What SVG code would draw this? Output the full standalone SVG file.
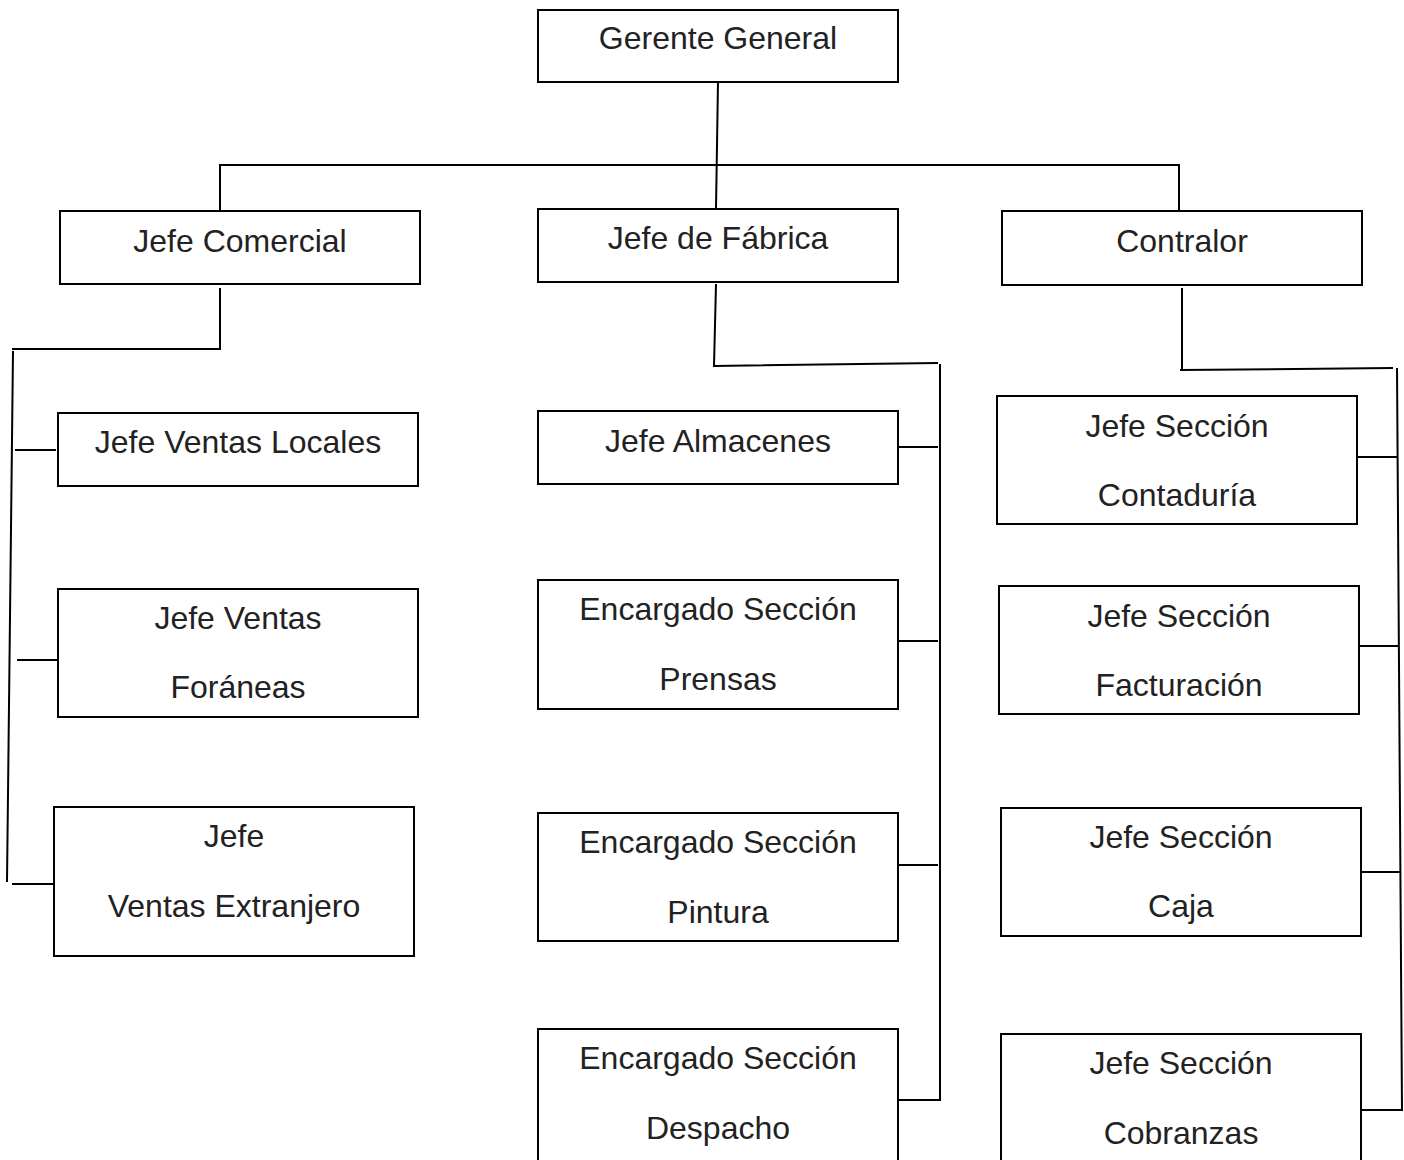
<svg xmlns="http://www.w3.org/2000/svg" width="1404" height="1160" viewBox="0 0 1404 1160">
<style>
.box{fill:#fff;stroke:#000;stroke-width:2}
.t{font-family:"Liberation Sans",Arial,sans-serif;font-size:32px;fill:#222;text-anchor:middle}
.c{fill:none;stroke:#000;stroke-width:2}
</style>
<rect width="1404" height="1160" fill="#fff"/>
<g id="connectors">
<path class="c" d="M718,82 L716,208"/>
<path class="c" d="M220,210 L220,165 L1179,165 L1179,210"/>
<path class="c" d="M220,288 L220,349 L12,349"/>
<path class="c" d="M13,351 L7,882"/>
<path class="c" d="M15,450 L56,450"/>
<path class="c" d="M17,660 L57,660"/>
<path class="c" d="M12,884 L53,884"/>
<path class="c" d="M716,284 L714,366 L938,363"/>
<path class="c" d="M940,364 L940,1100 L898,1100"/>
<path class="c" d="M898,447 L938,447"/>
<path class="c" d="M898,641 L938,641"/>
<path class="c" d="M898,865 L938,865"/>
<path class="c" d="M1182,288 L1182,370"/>
<path class="c" d="M1180,370 L1393,368"/>
<path class="c" d="M1397,368 L1402,1110 L1362,1110"/>
<path class="c" d="M1357,457 L1397,457"/>
<path class="c" d="M1357,646 L1398,646"/>
<path class="c" d="M1362,872 L1400,872"/>
</g>
<g id="gerente"><rect class="box" x="538" y="10" width="360" height="72"/><text class="t" x="718" y="49">Gerente General</text></g>
<g id="comercial"><rect class="box" x="60" y="211" width="360" height="73"/><text class="t" x="240" y="252">Jefe Comercial</text></g>
<g id="fabrica"><rect class="box" x="538" y="209" width="360" height="73"/><text class="t" x="718" y="249">Jefe de Fábrica</text></g>
<g id="contralor"><rect class="box" x="1002" y="211" width="360" height="74"/><text class="t" x="1182" y="252">Contralor</text></g>
<g id="locales"><rect class="box" x="58" y="413" width="360" height="73"/><text class="t" x="238" y="453">Jefe Ventas Locales</text></g>
<g id="foraneas"><rect class="box" x="58" y="589" width="360" height="128"/><text class="t" x="238" y="629">Jefe Ventas</text><text class="t" x="238" y="698">Foráneas</text></g>
<g id="extranjero"><rect class="box" x="54" y="807" width="360" height="149"/><text class="t" x="234" y="847">Jefe</text><text class="t" x="234" y="917">Ventas Extranjero</text></g>
<g id="almacenes"><rect class="box" x="538" y="411" width="360" height="73"/><text class="t" x="718" y="452">Jefe Almacenes</text></g>
<g id="prensas"><rect class="box" x="538" y="580" width="360" height="129"/><text class="t" x="718" y="620">Encargado Sección</text><text class="t" x="718" y="690">Prensas</text></g>
<g id="pintura"><rect class="box" x="538" y="813" width="360" height="128"/><text class="t" x="718" y="853">Encargado Sección</text><text class="t" x="718" y="923">Pintura</text></g>
<g id="despacho"><rect class="box" x="538" y="1029" width="360" height="150"/><text class="t" x="718" y="1069">Encargado Sección</text><text class="t" x="718" y="1139">Despacho</text></g>
<g id="contaduria"><rect class="box" x="997" y="396" width="360" height="128"/><text class="t" x="1177" y="437">Jefe Sección</text><text class="t" x="1177" y="506">Contaduría</text></g>
<g id="facturacion"><rect class="box" x="999" y="586" width="360" height="128"/><text class="t" x="1179" y="627">Jefe Sección</text><text class="t" x="1179" y="696">Facturación</text></g>
<g id="caja"><rect class="box" x="1001" y="808" width="360" height="128"/><text class="t" x="1181" y="848">Jefe Sección</text><text class="t" x="1181" y="917">Caja</text></g>
<g id="cobranzas"><rect class="box" x="1001" y="1034" width="360" height="150"/><text class="t" x="1181" y="1074">Jefe Sección</text><text class="t" x="1181" y="1144">Cobranzas</text></g>
</svg>
